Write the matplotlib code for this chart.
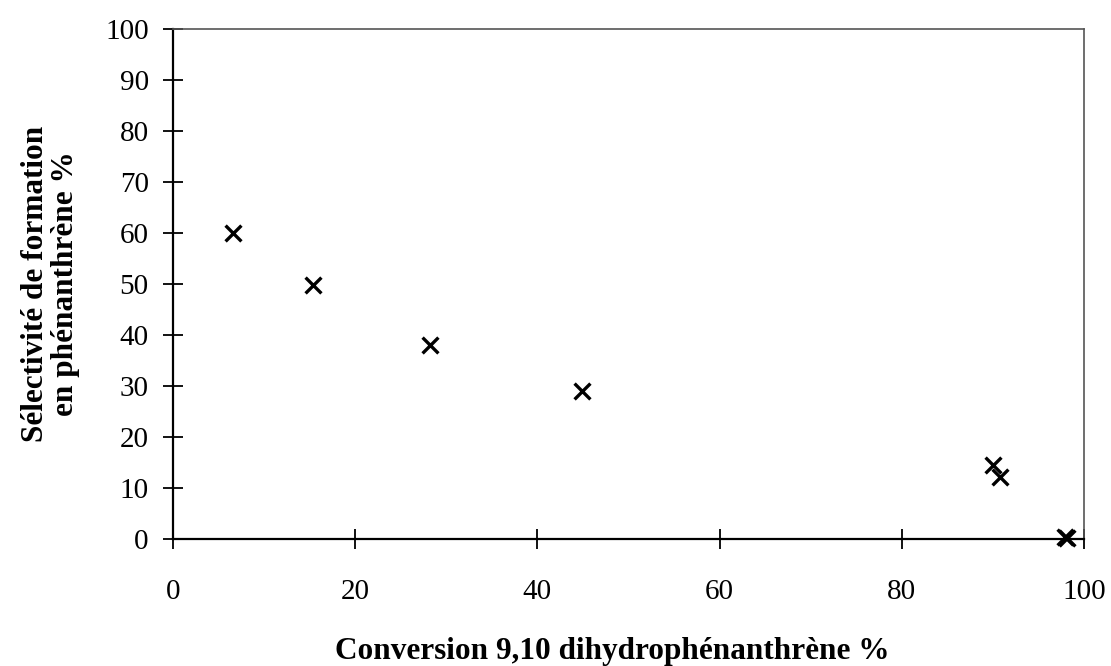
import numpy as np
import matplotlib
matplotlib.use("Agg")
from matplotlib import pyplot as plt

# conversion / selectivity points
conversion = [6.6, 15.4, 28.2, 44.9, 90.0, 90.8, 97.9, 98.1]
selectivity = [60.0, 49.8, 38.0, 29.0, 14.5, 12.2, 0.4, 0.2]

xticks = [0, 20, 40, 60, 80, 100]
yticks = [0, 10, 20, 30, 40, 50, 60, 70, 80, 90, 100]

plt.rcParams['font.family'] = ['Liberation Serif', 'DejaVu Serif']

W, H = 1111, 666
fig = plt.figure(figsize=(W/100, H/100), dpi=100)
ax = fig.add_axes([173/W, 1 - 539/H, (1084-173)/W, (539-29)/H])

ax.scatter(conversion, selectivity, marker='x', s=130, color='black',
           linewidths=2.4, zorder=3, clip_on=False)

ax.set_xlim(0, 100)
ax.set_ylim(0, 100)
ax.set_xticks(xticks)
ax.set_yticks(yticks)

ax.tick_params(axis='y', direction='inout', length=15, width=1.3,
               labelsize=21, pad=10)
ax.tick_params(axis='x', direction='inout', length=15, width=1.3,
               labelsize=21, pad=21)

for side in ['left', 'bottom']:
    ax.spines[side].set_linewidth(1.6)
    ax.spines[side].set_color('black')
for side in ['top', 'right']:
    ax.spines[side].set_linewidth(1.2)
    ax.spines[side].set_color('#555555')

ax.set_xlabel('Conversion 9,10 dihydrophénanthrène %', fontsize=22.5,
              fontweight='bold', va='center')
ax.xaxis.set_label_coords(0.482, -0.22)
ax.set_ylabel('Sélectivité de formation\nen phénanthrène %', fontsize=22.5,
              fontweight='bold', linespacing=1.05, va='center')
ax.yaxis.set_label_coords(-0.134, 0.5)

fig.savefig('out.png', dpi=100, facecolor='white')
